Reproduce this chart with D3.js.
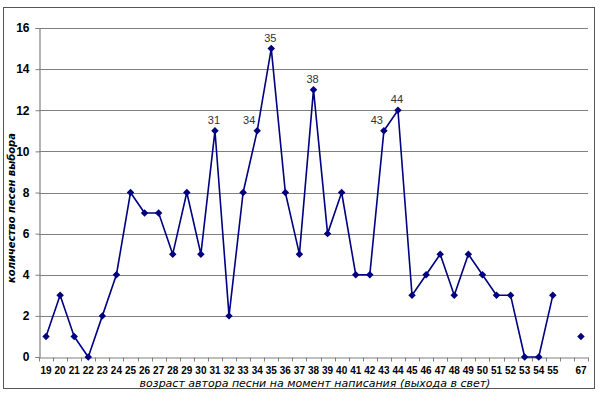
<!DOCTYPE html>
<html><head><meta charset="utf-8">
<script src="https://cdn.jsdelivr.net/npm/d3@7"></script>
<style>body{margin:0;background:#fff}svg{display:block}</style>
</head><body>
<svg id="c" width="600" height="396"></svg>
<script>
const categories = ["19","20","21","22","23","24","25","26","27","28","29","30","31","32","33","34","35","36","37","38","39","40","41","42","43","44","45","46","47","48","49","50","51","52","53","54","55","","67"];
const values = [1,3,1,0,2,4,8,7,7,5,8,5,11,2,8,11,15,8,5,13,6,8,4,4,11,12,3,4,5,3,5,4,3,3,0,0,3,null,1];
const labeled = ["31","34","35","38","43","44"];
const yTicks = [0,2,4,6,8,10,12,14,16];
const xTitle = "возраст автора песни на момент написания (выхода в свет)";
const yTitle = "количество песен выбора";

const svg = d3.select("#c");
const L = 39, R = 588, T = 28, B = 357;
const x = d3.scaleBand().domain(d3.range(categories.length)).range([L, R]);
const y = d3.scaleLinear().domain([0, 16]).range([B, T]);

// outer border
svg.append("rect").attr("x",3.5).attr("y",7.5).attr("width",591).attr("height",381)
  .attr("fill","#fff").attr("stroke","#555").attr("stroke-width",1);

// gridlines
svg.append("g").selectAll("line").data(yTicks.filter(d=>d>0)).join("line")
  .attr("x1",L).attr("x2",R).attr("y1",d=>Math.round(y(d))+0.5).attr("y2",d=>Math.round(y(d))+0.5)
  .attr("stroke","#808080").attr("stroke-width",1.2);

// y axis
const ya = svg.append("g").attr("transform",`translate(${L+0.5},0)`)
  .call(d3.axisLeft(y).tickValues(yTicks).tickSize(4).tickPadding(6).tickFormat(d3.format("d")));
ya.select(".domain").attr("stroke","#808080").attr("stroke-width",1.2);
ya.selectAll(".tick line").attr("stroke","#808080");
ya.selectAll("text").attr("font-family","Liberation Sans, Arial, sans-serif").attr("font-size",12)
  .attr("font-weight","bold").attr("fill","#000");

// x axis
const xa = svg.append("g").attr("transform",`translate(0,${B+0.5})`)
  .call(d3.axisBottom(x).tickFormat(i=>categories[i]).tickSize(0).tickPadding(9));
xa.select(".domain").attr("stroke","#808080").attr("stroke-width",1.2);
xa.selectAll("text").attr("font-family","Liberation Sans, Arial, sans-serif").attr("font-size",10)
  .attr("font-weight","bold").attr("fill","#000");
xa.append("g").selectAll("line").data(d3.range(categories.length+1)).join("line")
  .attr("x1",i=>Math.round(L + i*x.step())+0.5).attr("x2",i=>Math.round(L + i*x.step())+0.5)
  .attr("y1",0).attr("y2",4).attr("stroke","#808080");

const cx = i => x(i) + x.bandwidth()/2;

// line
const line = d3.line().defined(d=>d!=null).x((d,i)=>cx(i)).y(d=>y(d));
svg.append("path").datum(values).attr("d",line).attr("fill","none")
  .attr("stroke","#000080").attr("stroke-width",1.6).attr("stroke-linejoin","round");

// markers (square diamonds)
const sym = d3.symbol().type(d3.symbolSquare).size(28);
svg.append("g").selectAll("path").data(values.map((v,i)=>({v,i})).filter(d=>d.v!=null)).join("path")
  .attr("d",sym).attr("transform",d=>`translate(${cx(d.i)},${y(d.v)}) rotate(45)`)
  .attr("fill","#000080");

// data labels
const dxMap = {"34":-8,"43":-7};
svg.append("g").selectAll("text").data(labeled).join("text")
  .attr("x",c=>cx(categories.indexOf(c)) + (dxMap[c]||-1))
  .attr("y",c=>y(values[categories.indexOf(c)]) - 7)
  .attr("text-anchor","middle").attr("font-family","Liberation Sans, Arial, sans-serif")
  .attr("font-size",11).attr("fill","#333").text(c=>c);

// axis titles
svg.append("text").attr("x",315).attr("y",387).attr("text-anchor","middle")
  .attr("font-family","DejaVu Sans, Verdana, sans-serif").attr("font-style","italic")
  .attr("font-size",11).attr("fill","#000").text(xTitle);
svg.append("text").attr("transform","translate(15,208) rotate(-90)").attr("text-anchor","middle")
  .attr("font-family","DejaVu Sans, Verdana, sans-serif").attr("font-style","italic").attr("font-weight","bold")
  .attr("font-size",10).attr("fill","#000").text(yTitle);
</script>
</body></html>
